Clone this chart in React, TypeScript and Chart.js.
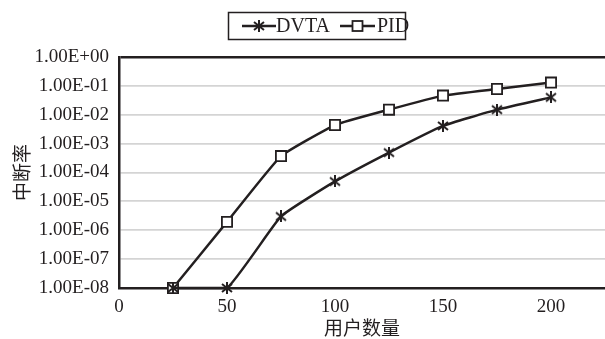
import React, { useEffect, useRef } from "react";
import { Chart, registerables } from "chart.js";

Chart.register(...registerables);

const users = [25, 50, 75, 100, 125, 150, 175, 200];
const dvta = [1e-8, 1e-8, 3e-6, 4.9e-5, 4.9e-4, 4.1e-3, 1.5e-2, 4.0e-2];
const pid = [1e-8, 1.95e-6, 3.7e-4, 4.4e-3, 1.5e-2, 4.6e-2, 7.8e-2, 1.3e-1];
const xTicks = [0, 50, 100, 150, 200];
const yTicks = [1e-8, 1e-7, 1e-6, 1e-5, 1e-4, 1e-3, 1e-2, 1e-1, 1e0];
const seriesNames = ["DVTA", "PID"];
const xTitle = "用户数量";
const yTitle = "中断率";

const INK = "#231f20";
const SERIF = "'Liberation Serif', 'Times New Roman', serif";
const CJK = "'Noto Sans CJK SC', sans-serif";

function fmtExp(v: number): string {
  const e = Math.round(Math.log10(v));
  const sign = e < 0 ? "-" : "+";
  const a = Math.abs(e);
  return "1.00E" + sign + (a < 10 ? "0" + a : String(a));
}

function makeStar(size: number): HTMLCanvasElement {
  const c = document.createElement("canvas");
  c.width = size;
  c.height = size;
  const g = c.getContext("2d")!;
  g.strokeStyle = INK;
  g.lineWidth = 2;
  const m = 1;
  g.beginPath();
  g.moveTo(m, m + 1);
  g.lineTo(size - m, size - m - 1);
  g.moveTo(size - m, m + 1);
  g.lineTo(m, size - m - 1);
  g.moveTo(size / 2, m - 1);
  g.lineTo(size / 2, size - m + 1);
  g.stroke();
  return c;
}

function drawSquare(ctx: CanvasRenderingContext2D, x: number, y: number, s: number) {
  ctx.save();
  ctx.fillStyle = "#ffffff";
  ctx.strokeStyle = INK;
  ctx.lineWidth = 1.8;
  ctx.fillRect(x - s / 2, y - s / 2, s, s);
  ctx.strokeRect(x - s / 2, y - s / 2, s, s);
  ctx.restore();
}

export default function App() {
  const ref = useRef<HTMLCanvasElement | null>(null);

  useEffect(() => {
    document.body.style.margin = "0";
    const canvas = ref.current!;
    const star = makeStar(12);

    const legendPlugin = {
      id: "boxLegend",
      afterDraw(chart: any) {
        const ctx: CanvasRenderingContext2D = chart.ctx;
        ctx.save();
        ctx.strokeStyle = INK;
        ctx.lineWidth = 1.5;
        ctx.strokeRect(228.5, 12.5, 177, 27);
        const cy = 26;
        ctx.lineWidth = 2.5;
        ctx.beginPath();
        ctx.moveTo(242, cy);
        ctx.lineTo(276, cy);
        ctx.moveTo(340, cy);
        ctx.lineTo(375, cy);
        ctx.stroke();
        ctx.drawImage(star, 259 - 6, cy - 6);
        drawSquare(ctx, 357.5, cy, 10);
        ctx.fillStyle = INK;
        ctx.font = "20px " + SERIF;
        ctx.textBaseline = "middle";
        ctx.textAlign = "left";
        ctx.fillText(seriesNames[0], 276, cy + 1);
        ctx.fillText(seriesNames[1], 377, cy + 1);
        ctx.restore();
      },
    };

    const chart = new Chart(canvas, {
      type: "line",
      data: {
        labels: users,
        datasets: [
          {
            label: seriesNames[1],
            data: users.map((x, i) => ({ x, y: pid[i] })),
            borderColor: INK,
            borderWidth: 2.5,
            tension: 0.12,
            pointStyle: "rect",
            pointRadius: 7.2,
            pointBackgroundColor: "#ffffff",
            pointBorderColor: INK,
            pointBorderWidth: 1.8,
            order: 2,
            clip: false as any,
          },
          {
            label: seriesNames[0],
            data: users.map((x, i) => ({ x, y: dvta[i] })),
            borderColor: INK,
            borderWidth: 2.5,
            tension: 0.12,
            pointStyle: star as any,
            pointRadius: 6,
            order: 1,
            clip: false as any,
          },
        ],
      },
      options: {
        responsive: false,
        animation: false,
        layout: { padding: { top: 57, right: 0, left: 0, bottom: 0 } },
        plugins: {
          legend: { display: false },
          tooltip: { enabled: false },
        },
        scales: {
          x: {
            type: "linear",
            min: 0,
            max: 225,
            afterBuildTicks: (s: any) => {
              s.ticks = xTicks.map((v) => ({ value: v }));
            },
            afterFit: (s: any) => {
              s.height = 51;
              s.paddingRight = 0;
              s.paddingLeft = 0;
            },
            grid: { display: false, drawTicks: false },
            border: { display: true, color: INK, width: 2.5 },
            ticks: {
              color: INK,
              font: { family: SERIF, size: 19 },
              padding: 8,
              maxRotation: 0,
            },
            title: {
              display: true,
              text: xTitle,
              color: INK,
              font: { family: CJK, size: 19 },
              padding: { top: 5, bottom: 0 },
            },
          },
          y: {
            type: "logarithmic",
            min: 1e-8,
            max: 1,
            afterBuildTicks: (s: any) => {
              s.ticks = yTicks.map((v) => ({ value: v }));
            },
            afterFit: (s: any) => {
              s.width = 119;
            },
            grid: {
              drawTicks: false,
              color: (c: any) => (c.tick && c.tick.value === 1 ? INK : "#d4d4d4"),
              lineWidth: (c: any) => (c.tick && c.tick.value === 1 ? 2.5 : 1.8),
            },
            border: { display: true, color: INK, width: 2.5 },
            ticks: {
              color: INK,
              font: { family: SERIF, size: 19 },
              padding: 10,
              callback: (v: any) => fmtExp(Number(v)),
            },
            title: {
              display: true,
              text: yTitle,
              color: INK,
              font: { family: CJK, size: 19 },
              padding: { top: 10, bottom: 4 },
            },
          },
        },
      },
      plugins: [legendPlugin],
    });

    // Prevent marker overflow from shrinking the plot area on the right.
    chart.data.datasets.forEach((_d: any, i: number) => {
      const ctrl: any = chart.getDatasetMeta(i).controller;
      ctrl.getMaxOverflow = () => 0;
    });
    chart.update();

    return () => chart.destroy();
  }, []);

  return <canvas ref={ref} width={605} height={339} style={{ display: "block" }} />;
}
